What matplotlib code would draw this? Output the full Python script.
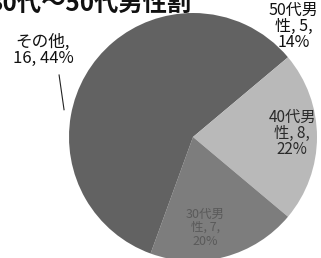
import matplotlib
matplotlib.use("Agg")
import matplotlib.pyplot as plt

plt.rcParams['font.family'] = ['Noto Sans CJK JP', 'DejaVu Sans']

# データ (12時から時計回り)
names = ["50代男性", "40代男性", "30代男性", "その他"]
counts = [5, 8, 7, 16]
percents = [14, 22, 20, 44]
colors = ["#626262", "#b9b9b9", "#7d7d7d", "#626262"]
title = "30代～50代男性割"

W, H = 321, 258
fig = plt.figure(figsize=(W / 100, H / 100), dpi=100)

# 円の中心と半径 (px)
cx, cy, r = 193, 137, 124
ax = fig.add_axes([(cx - r) / W, (H - cy - r) / H, 2 * r / W, 2 * r / H])
ax.pie(counts, colors=colors, startangle=90, counterclock=False,
       radius=1, wedgeprops=dict(linewidth=0))
ax.set_xlim(-1, 1)
ax.set_ylim(-1, 1)
ax.set_aspect("auto")
ax.axis("off")


def label_text(i, split):
    n = names[i]
    if split:
        return "{}\n{}, {},\n{}%".format(n[:4], n[4:], counts[i], percents[i])
    return "{},\n{}, {}%".format(n, counts[i], percents[i])


# ラベル位置
ax.text(0.81, 0.89, label_text(0, True), ha="center", va="center",
        fontsize=11.5, linespacing=0.95, color="#111111", clip_on=False)
ax.text(0.80, 0.03, label_text(1, True), ha="center", va="center",
        fontsize=11, linespacing=0.95, color="#2a2a2a", clip_on=False)
ax.text(0.10, -0.73, label_text(2, True), ha="center", va="center",
        fontsize=9, linespacing=1.05, color="#5a5a5a", clip_on=False)
ax.text(-1.21, 0.70, label_text(3, False), ha="center", va="center",
        fontsize=12, linespacing=0.95, color="#111111", clip_on=False)
ax.plot([-1.08, -1.04], [0.50, 0.22], color="#222222", lw=0.8, clip_on=False)

fig.text(-12 / W, (H - 11) / H, title, ha="left", va="baseline",
         fontsize=17.5, fontweight="bold", color="#111111")

fig.savefig("out.png", dpi=100, facecolor="white")
